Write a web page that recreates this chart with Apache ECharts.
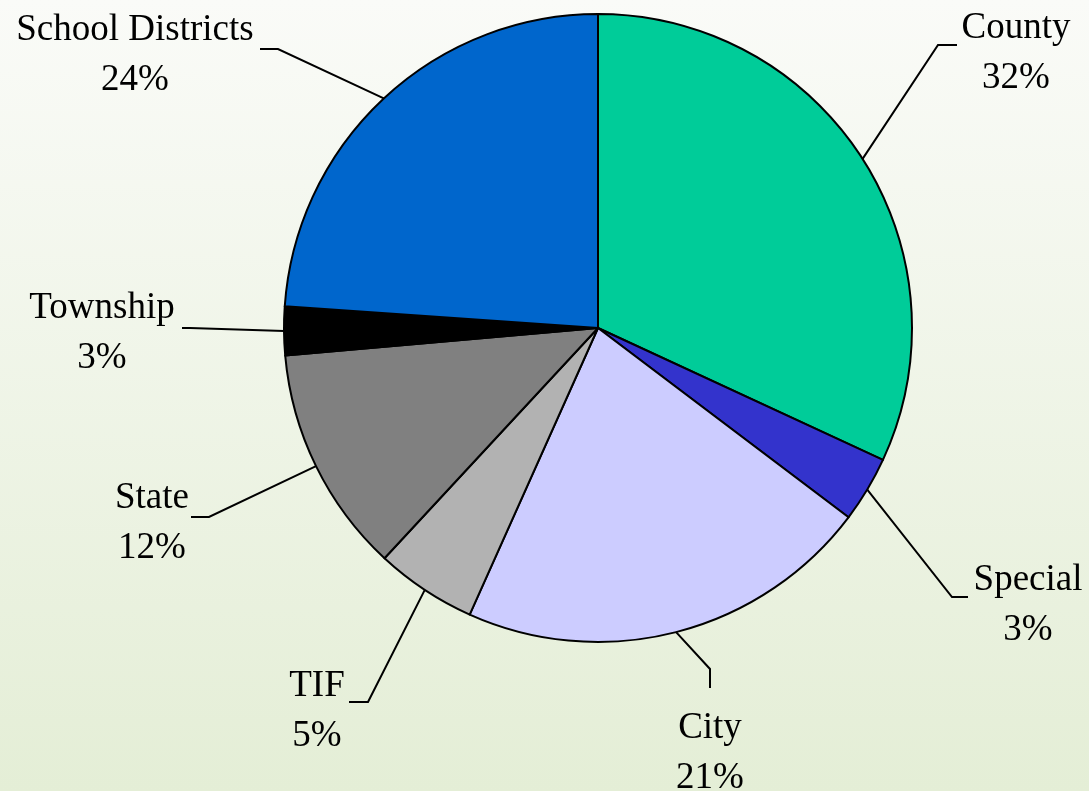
<!DOCTYPE html>
<html>
<head>
<meta charset="utf-8">
<script src="https://cdn.jsdelivr.net/npm/echarts@6/dist/echarts.min.js"></script>
<style>
  html, body { margin: 0; padding: 0; }
  #grafico { width: 1089px; height: 791px; }
</style>
</head>
<body>
<div id="grafico"></div>
<script>
// Datos del gráfico (orden horario desde las 12)
const categorias = ['County', 'Special', 'City', 'TIF', 'State', 'Township', 'School Districts'];
const valores = [31.9, 3.4, 21.4, 5.2, 11.7, 2.5, 23.9];
const colores = ['#00cc99', '#3333cc', '#ccccff', '#b2b2b2', '#808080', '#000000', '#0066cc'];

// Posición de cada etiqueta: codo de la línea, fin de la línea, centro del texto
const posEtiquetas = [
    { codo: [938, 45], fin: [957, 45], texto: [1016, 53] },
    { codo: [952, 597], fin: [968, 597], texto: [1028, 605] },
    { codo: [710, 669], fin: [710, 688], texto: [710, 753] },
    { codo: [368, 702], fin: [349, 702], texto: [317, 711] },
    { codo: [209, 517], fin: [191, 517], texto: [152, 523] },
    { codo: [190, 328], fin: [182, 328], texto: [102, 333] },
    { codo: [278, 49], fin: [260, 49], texto: [135, 55] }
];

const grafico = echarts.init(document.getElementById('grafico'));

grafico.setOption({
    backgroundColor: {
        type: 'linear', x: 0, y: 0, x2: 0, y2: 1,
        colorStops: [
            { offset: 0, color: '#fafbf8' },
            { offset: 1, color: '#e4eed6' }
        ]
    },
    animation: false,
    series: [{
        type: 'pie',
        center: [598, 328],
        radius: 314,
        startAngle: 90,
        clockwise: true,
        avoidLabelOverlap: false,
        data: categorias.map((nombre, i) => ({
            name: nombre,
            value: valores[i],
            itemStyle: { color: colores[i] }
        })),
        itemStyle: { borderColor: '#000', borderWidth: 2 },
        label: {
            show: true,
            position: 'outside',
            color: '#000',
            fontFamily: '"Liberation Serif", "Times New Roman", serif',
            fontSize: 37,
            lineHeight: 50,
            formatter: p => p.name + '\n' + Math.round(p.percent) + '%'
        },
        labelLine: {
            show: true,
            smooth: false,
            lineStyle: { color: '#000', width: 2 }
        },
        labelLayout: function (params) {
            const pos = posEtiquetas[params.dataIndex];
            const inicio = params.labelLinePoints[0];
            return {
                x: pos.texto[0],
                y: pos.texto[1],
                align: 'center',
                verticalAlign: 'middle',
                labelLinePoints: [inicio, pos.codo, pos.fin]
            };
        }
    }]
});
</script>
</body>
</html>
